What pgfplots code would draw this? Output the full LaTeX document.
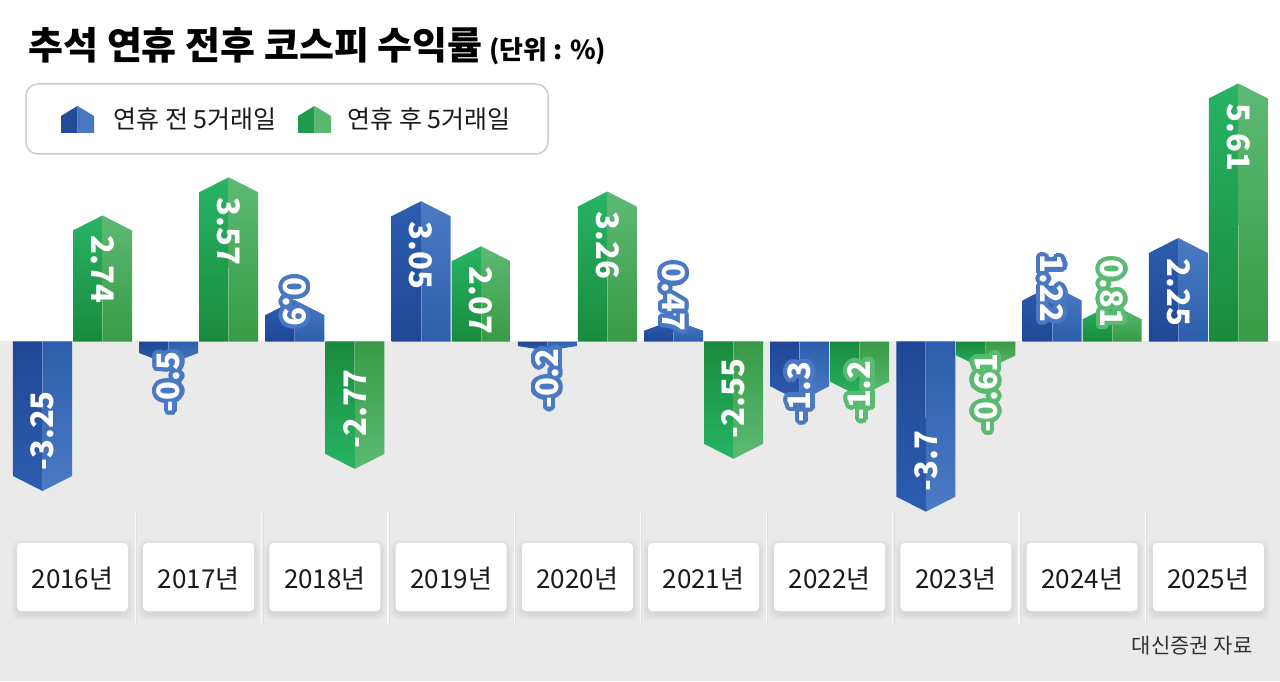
\documentclass[border=0pt]{standalone}
\usepackage{pgfplots}
\pgfplotsset{compat=1.18}
\usepackage{pgfplotstable}
\usepackage{fontspec}
\setmainfont{Noto Sans CJK KR}

\definecolor{bggray}{HTML}{EAEAEA}
\definecolor{bZL}{HTML}{1F4795}
\definecolor{bTL}{HTML}{2C5DB0}
\definecolor{bZR}{HTML}{2C5EAB}
\definecolor{bTR}{HTML}{4C7BC4}
\definecolor{bHalo}{HTML}{4A78C2}
\definecolor{gZL}{HTML}{1A8A3D}
\definecolor{gTL}{HTML}{27B464}
\definecolor{gZR}{HTML}{389A46}
\definecolor{gTR}{HTML}{5DBA74}
\definecolor{gHalo}{HTML}{5BBA72}
\definecolor{txt}{HTML}{1A1A1A}

% 1px = 0.5pt, y unit = 46px = 23pt per %point
\pgfplotstableread{
idx year before after
0 2016 -3.25 2.74
1 2017 -0.5 3.57
2 2018 0.9 -2.77
3 2019 3.05 2.07
4 2020 -0.2 3.26
5 2021 0.47 -2.55
6 2022 -1.3 -1.2
7 2023 -3.7 -0.61
8 2024 1.22 0.81
9 2025 2.25 5.61
}\rets

\newcommand\lblfont{\fontsize{15.5pt}{15.5pt}\selectfont\bfseries}

% arrow bar, drawn from the data point (tip) back to the zero line
\newcommand\drawbar[6]{%
  \pgfmathsetmacro\bH{#1*23}%
  \pgfmathsetmacro\bN{-\bH}%
  \pgfmathsetmacro\bA{(#1<0 ? -1 : 1)*min(7.5,0.5*abs(\bH))}%
  \pgfmathsetmacro\bNA{-\bA}%
  \pgfmathsetmacro\bC{-0.55*\bH}%
  \pgfscope\pgftransformxshift{#2}%
    \ifdim\bH pt>0pt
      \shade[draw=none,top color=#4,bottom color=#3] (-14.75pt,\bN pt) -- (-14.75pt,\bNA pt) -- (0pt,0pt) -- (0pt,\bN pt) -- cycle;
      \shade[draw=none,top color=#6,bottom color=#5] (0pt,\bN pt) -- (0pt,0pt) -- (14.75pt,\bNA pt) -- (14.75pt,\bN pt) -- cycle;
    \else
      \shade[draw=none,top color=#3,bottom color=#4] (-14.75pt,\bN pt) -- (-14.75pt,\bNA pt) -- (0pt,0pt) -- (0pt,\bN pt) -- cycle;
      \shade[draw=none,top color=#5,bottom color=#6] (0pt,\bN pt) -- (0pt,0pt) -- (14.75pt,\bNA pt) -- (14.75pt,\bN pt) -- cycle;
    \fi
    \draw[draw=white,opacity=0.3,line width=0.5pt] (0pt,\bN pt) -- (0pt,\bC pt);
  \endpgfscope}

% rotated value label; short bars get an outlined label past the tip
\newcommand\drawlabel[3]{%
  \pgfmathsetmacro\lH{#1*23}%
  \pgfmathsetmacro\lS{(#1<0 ? -1 : 1)}%
  \pgfmathsetmacro\lR{(#1<0 ? 90 : -90)}%
  \pgfmathtruncatemacro\lSmall{abs(#1)<2 ? 1 : 0}%
  \pgfscope\pgftransformxshift{#2}%
  \ifnum\lSmall=1
    \pgfmathsetmacro\lY{-\lH+\lS*(2+6*abs(#1))}%
    \foreach \rr in {1.1,2.1}{%
    \foreach \ang in {0,15,...,345}{%
      \path[draw=none] (0pt,\lY pt) ++(\ang:\rr pt) node[draw=none,anchor=east,rotate=\lR,inner sep=0pt,text=#3,font=\lblfont]{#1};}}
    \node[draw=none,anchor=east,rotate=\lR,inner sep=0pt,text=white,font=\lblfont] at (0pt,\lY pt) {#1};
  \else
    \pgfmathsetmacro\lY{-\lS*10}%
    \node[draw=none,anchor=west,rotate=\lR,inner sep=0pt,text=white,font=\lblfont] at (0pt,\lY pt) {#1};
  \fi
  \endpgfscope}

\pgfplotsset{
  arrowbars/.style n args={5}{scatter,only marks,mark=*,point meta=explicit symbolic,
    scatter/@pre marker code/.code={\edef\val{\pgfplotspointmeta}\drawbar{\val}{#1}{#2}{#3}{#4}{#5}\scope[opacity=0]},
    scatter/@post marker code/.code={\endscope}},
  arrowlabels/.style 2 args={scatter,only marks,mark=*,point meta=explicit symbolic,
    scatter/@pre marker code/.code={\edef\val{\pgfplotspointmeta}\drawlabel{\val}{#1}{#2}\scope[opacity=0]},
    scatter/@post marker code/.code={\endscope}},
}

\begin{document}
\begin{tikzpicture}
\useasboundingbox (0,0) rectangle (640pt,340.5pt);

\begin{scope}[x=0.5pt,y=-0.5pt,yshift=340.5pt]
  \fill[white] (0,0) rectangle (1280,681);
  \fill[bggray] (0,341.5) rectangle (1280,681);
  % separators
  \foreach \i in {0,...,8}{
    \pgfmathsetmacro\sx{72.5+126.2*\i+63.1}
    \draw[white!70!bggray,line width=0.6pt] (\sx,512) -- (\sx,624);
    \draw[black!12,line width=0.4pt] (\sx+1.2,512) -- (\sx+1.2,624);
  }
  % year boxes
  \foreach \yr [count=\i from 0] in {2016,2017,2018,2019,2020,2021,2022,2023,2024,2025}{
    \pgfmathsetmacro\cx{72.5+126.2*\i}
    \foreach \e in {1,2,3,4,5,6}{
      \fill[black,opacity=0.012,rounded corners=4] (\cx-55.5-\e,543-\e+3) rectangle (\cx+55.5+\e,611+\e+3);
    }
    \fill[white,rounded corners=2] (\cx-55.5,543) rectangle (\cx+55.5,611);
    \node[anchor=base,inner sep=0pt,text=txt,font=\fontsize{13pt}{13pt}\selectfont] at (\cx,588) {\yr{}년};
  }
  % title
  \node[anchor=base west,inner sep=0pt,text=black] at (28,60)
    {\fontsize{19pt}{19pt}\selectfont\bfseries 추석 연휴 전후 코스피 수익률\,{\fontsize{13pt}{13pt}\selectfont (단위 : \%)}};
  % legend
  \draw[black!20,line width=0.75pt,fill=white,rounded corners=6] (26,84) rectangle (548,154);
  \fill[bZL!80!bTL] (61,133) -- (61,116) -- (77.5,106) -- (77.5,133) -- cycle;
  \fill[bTR!90!bZR] (77.5,133) -- (77.5,106) -- (94,116) -- (94,133) -- cycle;
  \node[anchor=base west,inner sep=0pt,text=txt,font=\fontsize{12.5pt}{12.5pt}\selectfont] at (113,129) {연휴 전 5거래일};
  \fill[gZL!60!gTL] (298,133) -- (298,116) -- (314.5,106) -- (314.5,133) -- cycle;
  \fill[gTR!90!gZR] (314.5,133) -- (314.5,106) -- (331,116) -- (331,133) -- cycle;
  \node[anchor=base west,inner sep=0pt,text=txt,font=\fontsize{12.5pt}{12.5pt}\selectfont] at (347,129) {연휴 후 5거래일};
  % source
  \node[anchor=base east,inner sep=0pt,text=black!80,font=\fontsize{10.5pt}{10.5pt}\selectfont] at (1253,653) {대신증권 자료};
\end{scope}

\begin{axis}[at={(0,0)},anchor=south west,
  width=640pt,height=340.5pt,scale only axis,
  xmin=-0.574485,xmax=9.56815,ymin=-7.38043,ymax=7.42391,
  hide axis,clip=false]
  % bars
  \addplot[arrowbars={-15pt}{bZL}{bTL}{bZR}{bTR}] table[x=idx,y=before,meta=before]{\rets};
  \addplot[arrowbars={15pt}{gZL}{gTL}{gZR}{gTR}] table[x=idx,y=after,meta=after]{\rets};
  % labels
  \addplot[arrowlabels={-15pt}{bHalo}] table[x=idx,y=before,meta=before]{\rets};
  \addplot[arrowlabels={15pt}{gHalo}] table[x=idx,y=after,meta=after]{\rets};
\end{axis}
\end{tikzpicture}
\end{document}
